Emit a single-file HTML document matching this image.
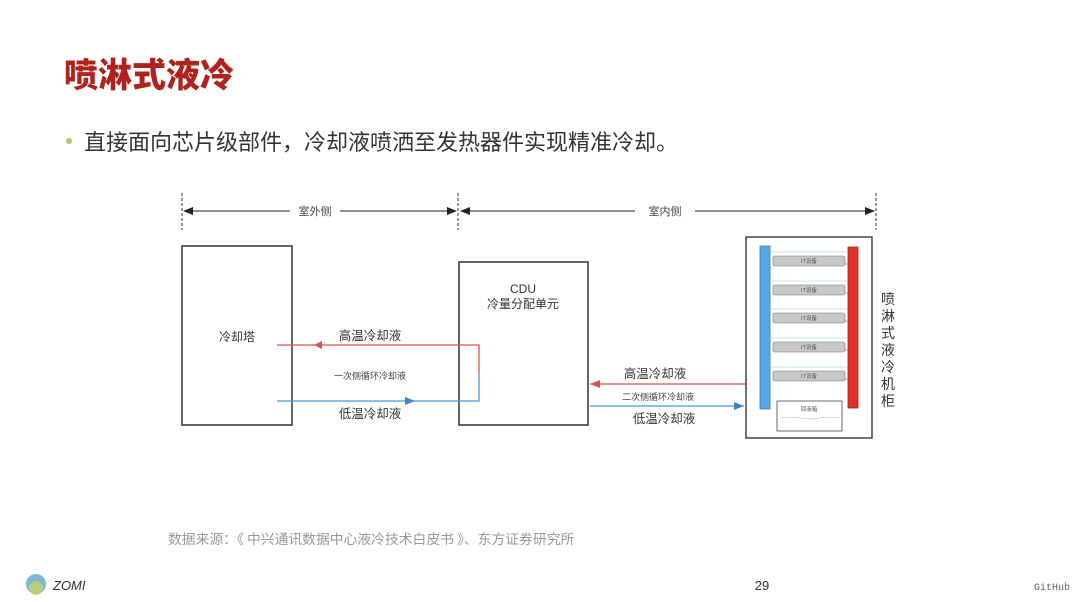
<!DOCTYPE html>
<html><head><meta charset="utf-8"><style>
body{margin:0;width:1080px;height:597px;background:#fff;overflow:hidden;font-family:"Liberation Sans","Noto Sans CJK SC",sans-serif;}
</style></head><body>
<svg width="1080" height="597" viewBox="0 0 1080 597" xmlns="http://www.w3.org/2000/svg" font-family="Liberation Sans, Noto Sans CJK SC, sans-serif">
<defs>
<marker id="ab" markerWidth="10" markerHeight="8" refX="9" refY="4" orient="auto" markerUnits="userSpaceOnUse"><path d="M0,0 L10,4 L0,8 Z" fill="#222"/></marker>
</defs>
<text x="64" y="87" font-size="34" font-weight="900" fill="#b0231c" font-family="Noto Sans CJK SC, sans-serif">喷淋式液冷</text>
<circle cx="69" cy="141" r="3" fill="#a9c97a"/>
<text x="84" y="150" font-size="22" fill="#333" font-family="Noto Sans CJK SC, sans-serif">直接面向芯片级部件，冷却液喷洒至发热器件实现精准冷却。</text>

<g stroke="#333" stroke-width="1" stroke-dasharray="3,2">
<line x1="182" y1="193" x2="182" y2="230"/><line x1="458" y1="193" x2="458" y2="230"/><line x1="876" y1="193" x2="876" y2="230"/>
</g>
<g stroke="#222" stroke-width="1">
<line x1="290" y1="211" x2="184" y2="211" marker-end="url(#ab)"/>
<line x1="340" y1="211" x2="456" y2="211" marker-end="url(#ab)"/>
<line x1="635" y1="211" x2="461" y2="211" marker-end="url(#ab)"/>
<line x1="695" y1="211" x2="874" y2="211" marker-end="url(#ab)"/>
</g>
<text x="315" y="215" font-size="11" fill="#444" text-anchor="middle" font-family="Noto Sans CJK SC, sans-serif">室外侧</text>
<text x="665" y="215" font-size="11" fill="#444" text-anchor="middle" font-family="Noto Sans CJK SC, sans-serif">室内侧</text>

<rect x="182" y="246" width="110" height="179" fill="none" stroke="#333" stroke-width="1.5"/>
<text x="237" y="341" font-size="12" fill="#333" text-anchor="middle" font-family="Noto Sans CJK SC, sans-serif">冷却塔</text>
<rect x="459" y="262" width="129" height="163" fill="none" stroke="#333" stroke-width="1.5"/>
<text x="523" y="293" font-size="12" fill="#333" text-anchor="middle">CDU</text>
<text x="523" y="308" font-size="12" fill="#333" text-anchor="middle" font-family="Noto Sans CJK SC, sans-serif">冷量分配单元</text>

<polyline points="277,345 479,345 479,373" fill="none" stroke="#d9534f" stroke-width="1.3"/>
<polyline points="479,373 479,401 277,401" fill="none" stroke="#4a9ad4" stroke-width="1.3"/>
<path d="M322,341 L314,345 L322,349 Z" fill="#d9534f"/>
<path d="M405,397 L415,401 L405,405 Z" fill="#3a85c6"/>
<text x="370" y="340" font-size="12.5" fill="#333" text-anchor="middle" font-family="Noto Sans CJK SC, sans-serif">高温冷却液</text>
<text x="370" y="379" font-size="9" fill="#444" text-anchor="middle" font-family="Noto Sans CJK SC, sans-serif">一次侧循环冷却液</text>
<text x="370" y="418" font-size="12.5" fill="#333" text-anchor="middle" font-family="Noto Sans CJK SC, sans-serif">低温冷却液</text>

<line x1="590" y1="384" x2="746" y2="384" stroke="#d9534f" stroke-width="1.3"/>
<path d="M600,380 L590,384 L600,388 Z" fill="#d9534f"/>
<line x1="590" y1="406" x2="744" y2="406" stroke="#4a9ad4" stroke-width="1.3"/>
<path d="M734,402 L744,406 L734,410 Z" fill="#3a85c6"/>
<text x="655" y="378" font-size="12.5" fill="#333" text-anchor="middle" font-family="Noto Sans CJK SC, sans-serif">高温冷却液</text>
<text x="658" y="400" font-size="9" fill="#444" text-anchor="middle" font-family="Noto Sans CJK SC, sans-serif">二次侧循环冷却液</text>
<text x="664" y="423" font-size="12.5" fill="#333" text-anchor="middle" font-family="Noto Sans CJK SC, sans-serif">低温冷却液</text>

<rect x="746" y="237" width="126" height="201" fill="none" stroke="#444" stroke-width="1.5"/>
<rect x="760" y="246" width="10" height="163" fill="#5aa9e6" stroke="#3a7cb0" stroke-width="0.8"/>
<rect x="848" y="247" width="10" height="161" fill="#e0302a" stroke="#a01d18" stroke-width="0.8"/>
<g>
<rect x="773" y="256" width="72" height="10" rx="2" fill="#c8c8c8" stroke="#777" stroke-width="0.6"/>
<rect x="773" y="285" width="72" height="10" rx="2" fill="#c8c8c8" stroke="#777" stroke-width="0.6"/>
<rect x="773" y="313" width="72" height="10" rx="2" fill="#c8c8c8" stroke="#777" stroke-width="0.6"/>
<rect x="773" y="342" width="72" height="10" rx="2" fill="#c8c8c8" stroke="#777" stroke-width="0.6"/>
<rect x="773" y="371" width="72" height="10" rx="2" fill="#c8c8c8" stroke="#777" stroke-width="0.6"/>
<g stroke="#9cc6e6" stroke-width="0.6">
<line x1="770" y1="252" x2="848" y2="252"/><line x1="770" y1="281" x2="848" y2="281"/><line x1="770" y1="309" x2="848" y2="309"/><line x1="770" y1="338" x2="848" y2="338"/><line x1="770" y1="367" x2="848" y2="367"/>
</g>
<g stroke="#d9534f" stroke-width="0.6" fill="none">
<polyline points="845,264 848,264"/><polyline points="845,293 848,293"/><polyline points="845,321 848,321"/><polyline points="845,350 848,350"/><polyline points="845,379 848,379"/>
</g>
<g font-size="5.5" fill="#555" text-anchor="middle" font-family="Noto Sans CJK SC, sans-serif">
<text x="809" y="263">IT设备</text><text x="809" y="292">IT设备</text><text x="809" y="320">IT设备</text><text x="809" y="349">IT设备</text><text x="809" y="378">IT设备</text>
</g>
</g>
<rect x="777" y="401" width="65" height="30" fill="#fff" stroke="#444" stroke-width="0.8"/>
<text x="809" y="411" font-size="5.5" fill="#555" text-anchor="middle" font-family="Noto Sans CJK SC, sans-serif">回液箱</text>
<path d="M780,418 Q790,416 800,418 T820,418 T840,418" fill="none" stroke="#e8a0b8" stroke-width="0.6"/>
<g font-size="14" fill="#333" text-anchor="middle" font-family="Noto Sans CJK SC, sans-serif">
<text x="888" y="304">喷</text><text x="888" y="321">淋</text><text x="888" y="338">式</text><text x="888" y="355">液</text><text x="888" y="372">冷</text><text x="888" y="389">机</text><text x="888" y="406">柜</text>
</g>

<text x="168" y="544" font-size="13.8" fill="#999" font-family="Noto Sans CJK SC, sans-serif">数据来源：《 中兴通讯数据中心液冷技术白皮书 》、东方证券研究所</text>
<circle cx="36" cy="584" r="10" fill="#7fb8d0"/>
<circle cx="36" cy="588" r="7" fill="#c2d66a" opacity="0.8"/>
<text x="53" y="590" font-size="13" font-style="italic" fill="#333">ZOMI</text>
<text x="762" y="590" font-size="13" fill="#333" text-anchor="middle">29</text>
<text x="1052" y="590" font-size="10" fill="#666" text-anchor="middle" font-family="Liberation Mono, monospace">GitHub</text>
</svg>
</body></html>
